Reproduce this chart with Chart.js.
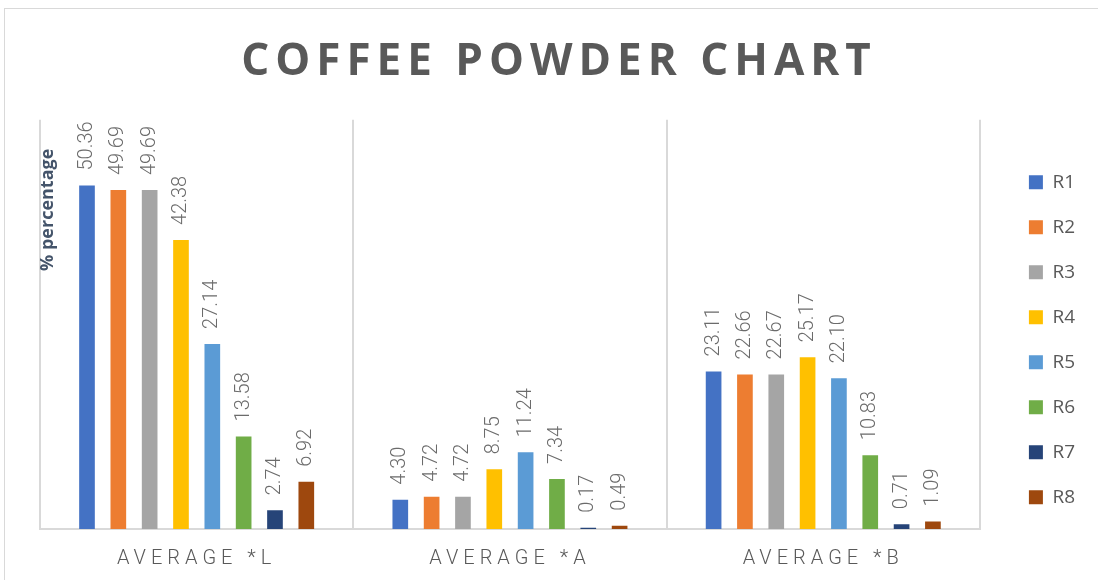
<!DOCTYPE html>
<html>
<head>
<meta charset="utf-8">
<script src="https://cdn.jsdelivr.net/npm/chart.js@4.4.1/dist/chart.umd.min.js"></script>
<style>
    html, body { margin: 0; background: #fff; }
    #wrap { position: relative; width: 1098px; height: 580px; overflow: hidden; }
    #frame { position: absolute; left: 4px; top: 8px; width: 1110px; height: 600px; border: 1px solid #d9d9d9; box-sizing: border-box; }
    canvas { position: absolute; left: 0; top: 0; }
</style>
</head>
<body>
<div id="wrap">
    <div id="frame"></div>
    <canvas id="coffeeChart" width="1098" height="580"></canvas>
</div>
<script>
const categories = ['AVERAGE *L', 'AVERAGE *A', 'AVERAGE *B'];
const seriesNames = ['R1', 'R2', 'R3', 'R4', 'R5', 'R6', 'R7', 'R8'];

const r1Values = [50.36, 4.30, 23.11];
const r2Values = [49.69, 4.72, 22.66];
const r3Values = [49.69, 4.72, 22.67];
const r4Values = [42.38, 8.75, 25.17];
const r5Values = [27.14, 11.24, 22.10];
const r6Values = [13.58, 7.34, 10.83];
const r7Values = [2.74, 0.17, 0.71];
const r8Values = [6.92, 0.49, 1.09];

const seriesValues = [r1Values, r2Values, r3Values, r4Values, r5Values, r6Values, r7Values, r8Values];
const seriesColors = ['#4472c4', '#ed7d31', '#a5a5a5', '#ffc000', '#5b9bd5', '#70ad47', '#264478', '#9e480e'];

// letter-spaced title and category labels
const spacedText = {
    id: 'spacedText',
    beforeDraw(chart) {
        const ctx = chart.ctx;
        const wrap = (obj, key, spacing, dx) => {
            if (!obj || obj['_spaced_' + key]) return;
            const orig = obj[key];
            obj[key] = function (...args) {
                ctx.save();
                ctx.letterSpacing = spacing;
                ctx.translate(dx, 0);
                orig.apply(this, args);
                ctx.restore();
            };
            obj['_spaced_' + key] = true;
        };
        wrap(chart.titleBlock, 'draw', '6px', 8);
        wrap(chart.scales.x, 'drawLabels', '5px', 0);
    }
};

// move legend a bit away from the plot
const legendNudge = {
    id: 'legendNudge',
    afterLayout(chart) {
        const lg = chart.legend;
        if (!lg) return;
        const w = lg.right - lg.left;
        lg.left = chart.chartArea.right + 23;
        lg.right = lg.left + w;
        lg.top += 27;
        lg.bottom += 27;
    }
};

const barValueLabels = {
    id: 'barValueLabels',
    afterDatasetsDraw(chart) {
        const ctx = chart.ctx;
        ctx.save();
        ctx.font = '300 20px Roboto';
        ctx.fillStyle = '#6b6b6b';
        ctx.textAlign = 'left';
        ctx.textBaseline = 'middle';
        chart.data.datasets.forEach((ds, i) => {
            chart.getDatasetMeta(i).data.forEach((bar, j) => {
                ctx.save();
                ctx.translate(bar.x, bar.y - 15);
                ctx.rotate(-Math.PI / 2);
                ctx.fillText(ds.data[j].toFixed(2), 0, 0);
                ctx.restore();
            });
        });
        ctx.restore();
    }
};

const yTitle = {
    id: 'yTitle',
    afterDraw(chart) {
        const ctx = chart.ctx;
        const area = chart.chartArea;
        ctx.save();
        ctx.translate(area.left + 8, area.top + 90);
        ctx.rotate(-Math.PI / 2);
        ctx.font = 'bold 18px "Open Sans"';
        ctx.fillStyle = '#44546a';
        ctx.textAlign = 'center';
        ctx.textBaseline = 'middle';
        ctx.fillText('% percentage', 0, 0);
        ctx.restore();
    }
};

new Chart(document.getElementById('coffeeChart'), {
    type: 'bar',
    data: {
        labels: categories,
        datasets: seriesNames.map((name, i) => ({
            label: name,
            data: seriesValues[i],
            backgroundColor: seriesColors[i],
            borderWidth: 0,
            categoryPercentage: 0.8,
            barPercentage: 0.5,
        }))
    },
    options: {
        responsive: false,
        devicePixelRatio: 1,
        animation: false,
        layout: { padding: { left: 40, right: 36, top: 0, bottom: -9 } },
        plugins: {
            title: {
                display: true,
                text: 'COFFEE POWDER CHART',
                color: '#595959',
                font: { family: '"Open Sans"', size: 44, weight: 'bold' },
                padding: { top: 36, bottom: 31 },
            },
            legend: {
                position: 'right',
                align: 'start',
                fullSize: false,
                labels: {
                    boxWidth: 14,
                    boxHeight: 14,
                    padding: 26,
                    color: '#595959',
                    font: { family: '"Open Sans"', size: 19 },
                }
            },
            tooltip: { enabled: false },
        },
        scales: {
            x: {
                grid: { color: '#d9d9d9', lineWidth: 2, drawTicks: false },
                border: { color: '#d9d9d9', width: 2 },
                ticks: {
                    color: '#595959',
                    padding: 18,
                    font: { family: 'Roboto', size: 20, weight: 300 },
                }
            },
            y: {
                display: false,
                min: 0,
                max: 60,
            }
        }
    },
    plugins: [spacedText, legendNudge, barValueLabels, yTitle]
});
</script>
</body>
</html>
